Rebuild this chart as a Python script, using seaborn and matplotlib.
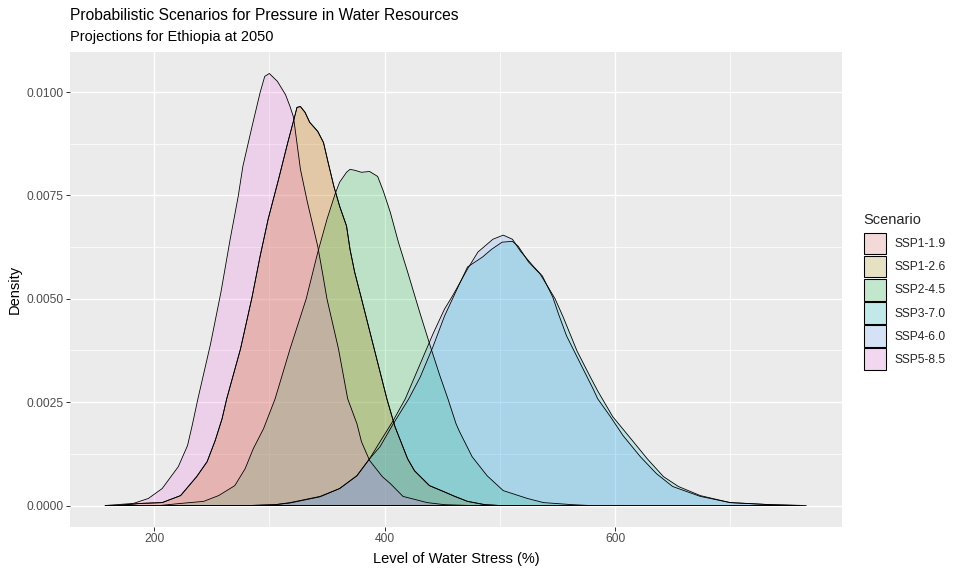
import numpy as np
import pandas as pd
import matplotlib
matplotlib.use('Agg')
import matplotlib.pyplot as plt
import seaborn as sns
from matplotlib.colors import to_rgb
from matplotlib.patches import Patch
from matplotlib.ticker import FixedLocator, FormatStrFormatter

SCENARIOS = ['SSP1-1.9', 'SSP1-2.6', 'SSP2-4.5', 'SSP3-7.0', 'SSP4-6.0', 'SSP5-8.5']
COLORS = ['#F8766D', '#B79F00', '#00BA38', '#00BFC4', '#619CFF', '#F564E3']

# SSP1-1.9 and SSP1-2.6 are on top of each other in the picture
ssp1_x = [168, 188, 207, 223, 237, 246, 253, 259, 263, 275, 285, 292, 299, 308, 316, 322, 324, 327,
          331, 335, 342, 347, 351, 356, 361, 367, 370, 374, 380, 391, 402, 409, 420, 426, 439, 451,
          461, 472, 487, 500]
ssp1_y = [0, .00005, .00007, .00024, .0007, .00106, .00157, .0021, .00258, .00379, .00504, .00603,
          .00693, .00789, .00878, .00941, .00963, .00965, .00951, .00927, .00905, .00878, .0083,
          .00772, .00724, .00676, .0062, .00565, .005, .00379, .00258, .00191, .00113, .00084,
          .00048, .00034, .00022, .0001, .00002, 0]

ssp2_x = [205, 223, 243, 256, 270, 279, 286, 295, 305, 318, 332, 342, 350, 357, 361, 367, 370, 374,
          380, 387, 394, 399, 405, 412, 420, 427, 431, 441, 448, 455, 462, 465, 476, 489, 503, 524,
          538, 563, 578]
ssp2_y = [0, .00005, .0001, .00024, .00048, .00089, .00137, .00186, .00258, .00379, .005, .00612,
          .00692, .00753, .00782, .00806, .00813, .00811, .00806, .00808, .00796, .0076, .00709,
          .00637, .00565, .005, .00463, .00374, .00314, .00258, .00198, .00179, .00118, .00072,
          .00036, .00017, .00007, .00002, 0]

ssp3_x = [283, 305, 318, 344, 361, 376, 387, 396, 407, 421, 431, 442, 452, 463, 472, 485, 493, 502,
          511, 516, 525, 535, 542, 548, 555, 567, 578, 585, 598, 616, 628, 642, 655, 674, 700, 735,
          766]
ssp3_y = [0, .00002, .00006, .00021, .00041, .00072, .00113, .00142, .00195, .00258, .00311, .00384,
          .00458, .00524, .00577, .00601, .0062, .00637, .00639, .00627, .00589, .0056, .00528, .005,
          .00456, .00374, .00314, .00277, .00215, .00154, .00113, .0007, .00046, .00024, .00007,
          .00002, 0]

ssp4_x = [283, 305, 318, 344, 361, 376, 387, 396, 407, 418, 431, 442, 452, 459, 472, 481, 494, 503,
          511, 518, 529, 537, 546, 551, 558, 570, 581, 585, 596, 607, 622, 636, 650, 674, 700, 735,
          760]
ssp4_y = [0, .00002, .00007, .00022, .00041, .00072, .00113, .00154, .00203, .00258, .00343, .00415,
          .00475, .00507, .00572, .00613, .00644, .00654, .00644, .00615, .00579, .00555, .00504,
          .00463, .0041, .00343, .00282, .00258, .00215, .00169, .00118, .00077, .00046, .00022,
          .00007, .00002, 0]

ssp5_x = [157.5, 182, 195, 207, 221, 229, 233, 238, 249, 258, 266, 273, 277, 285, 292, 296, 300, 307,
          314, 318, 321, 327, 333, 342, 346, 350, 360, 368, 376, 380, 387, 398, 405, 416, 437, 452,
          474]
ssp5_y = [0, .00005, .00017, .00041, .00094, .00145, .00193, .00258, .00391, .00516, .00644, .00748,
          .0082, .00917, .00999, .01038, .01045, .01026, .00994, .00965, .00939, .00813, .00734,
          .00627, .00565, .005, .00379, .00258, .00198, .00154, .00109, .0007, .00053, .00022,
          .00007, .00002, 0]

XS = [ssp1_x, ssp1_x, ssp2_x, ssp3_x, ssp4_x, ssp5_x]
YS = [ssp1_y, ssp1_y, ssp2_y, ssp3_y, ssp4_y, ssp5_y]

X_MAJOR = [200, 400, 600]
X_MINOR = [300, 500, 700]
Y_MAJOR = [0, .0025, .005, .0075, .01]
Y_MINOR = [.00125, .00375, .00625, .00875]

sns.set_theme(style='darkgrid', rc={'axes.facecolor': '#EBEBEB', 'grid.color': 'white'})
plt.rcParams['font.family'] = ['Liberation Sans', 'DejaVu Sans']

W, H = 961, 573
fig, ax = plt.subplots(figsize=(W / 96, H / 96), dpi=96)
fig.subplots_adjust(left=70 / W, right=842 / W, top=1 - 52 / H, bottom=1 - 527 / H)

for name, color, xs, ys in zip(SCENARIOS, COLORS, XS, YS):
    ax.fill_between(xs, ys, 0, color=color, alpha=0.2, lw=0, zorder=2)
    # close the outline along the baseline, like a density polygon
    df = pd.DataFrame({'x': xs + [xs[0]], 'y': ys + [ys[0]]})
    sns.lineplot(data=df, x='x', y='y', sort=False, estimator=None, color='black',
                 lw=0.62, ax=ax, zorder=3)

ax.set_xlim(127, 797)
ax.set_ylim(-0.00052, 0.01097)
ax.xaxis.set_major_locator(FixedLocator(X_MAJOR))
ax.xaxis.set_minor_locator(FixedLocator(X_MINOR))
ax.yaxis.set_major_locator(FixedLocator(Y_MAJOR))
ax.yaxis.set_minor_locator(FixedLocator(Y_MINOR))
ax.yaxis.set_major_formatter(FormatStrFormatter('%.4f'))
ax.grid(which='major', color='white', lw=1.05)
ax.grid(which='minor', color='white', lw=0.53)
ax.set_axisbelow(True)
for s in ax.spines.values():
    s.set_visible(False)
ax.tick_params(which='major', length=2.75, width=0.75, color='#333333', labelcolor='#4D4D4D',
               labelsize=9, pad=2, bottom=True, left=True)
ax.tick_params(which='minor', length=0)

ax.set_xlabel('Level of Water Stress (%)', fontsize=11, color='black', labelpad=5)
ax.set_ylabel('Density', fontsize=11, color='black', labelpad=3.5)
fig.text(70 / W, 1 - 16 / H, 'Probabilistic Scenarios for Pressure in Water Resources',
         fontsize=11.7, color='black', va='center', ha='left')
fig.text(70 / W, 1 - 37 / H, 'Projections for Ethiopia at 2050',
         fontsize=10.9, color='black', va='center', ha='left')

# legend keys: alpha fill over the grey95 key background
key_bg = np.array(to_rgb('#F2F2F2'))
handles = [Patch(facecolor=tuple(0.8 * key_bg + 0.2 * np.array(to_rgb(c))), edgecolor='black', lw=0.8)
           for c in COLORS]
leg = fig.legend(handles, SCENARIOS, title='Scenario', loc='upper left',
                 bbox_to_anchor=(860 / W, 1 - 209 / H), frameon=False, fontsize=9,
                 title_fontsize=11, handlelength=1.9, handleheight=2.4, labelspacing=0.12,
                 handletextpad=0.7, borderpad=0.3, borderaxespad=0)
leg.get_title().set_ha('left')
leg._legend_box.align = 'left'
leg._legend_box.sep = 4.6

fig.savefig('out.png', dpi=96)
